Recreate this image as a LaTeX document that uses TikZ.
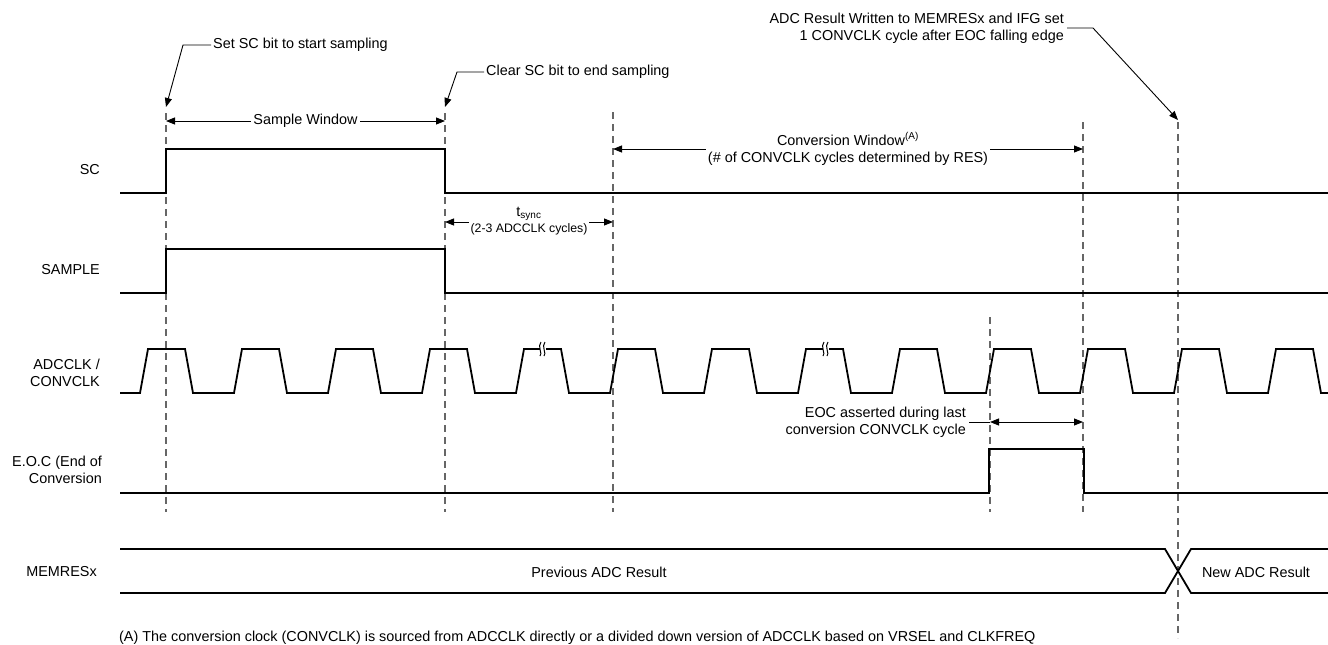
\documentclass[tikz,border=0pt]{standalone}
\usepackage{fontspec}
\setmainfont{Liberation Sans}
\usetikzlibrary{arrows.meta}
\begin{document}
\begin{tikzpicture}[x=1pt,y=-1pt,
  every node/.style={font=\fontsize{14.4}{17.3}\selectfont, inner sep=1pt},
  wave/.style={line width=1.8pt, line join=miter},
  guide/.style={line width=1.1pt, draw=black!60, dash pattern=on 7pt off 5pt},
  dimarrow/.style={line width=0.9pt, {Triangle[length=9pt,width=7pt]}-{Triangle[length=9pt,width=7pt]}},
  leadarrow/.style={line width=0.9pt, -{Triangle[length=9pt,width=7pt]}},
  leadline/.style={line width=0.9pt},
  sig/.style={anchor=east, align=right},
  dimlabel/.style={fill=white, align=center, inner sep=2pt}
]
\useasboundingbox (0,0) rectangle (1328,645);

% signal labels
\node[sig] (lSC) at (101,170) {SC};
\node[sig] (lSAMPLE) at (101,270) {SAMPLE};
\node[sig] (lCLK) at (101,373) {ADCCLK /\\CONVCLK};
\node[sig] (lEOC) at (103,470) {E.O.C (End of\\Conversion};
\node[sig] (lMEM) at (98,572) {MEMRESx};

% dashed guides
\draw[guide] (166,113) -- (166,512);
\draw[guide] (445,113) -- (445,512);
\draw[guide] (613,112) -- (613,512);
\draw[guide] (990,317) -- (990,512);
\draw[guide] (1083,122) -- (1083,512);
\draw[guide] (1178,122) -- (1178,638);

% waveforms
\draw[wave] (120,193) -- (166,193) -- (166,149) -- (445,149) -- (445,193) -- (1328,193);
\draw[wave] (120,293) -- (166,293) -- (166,249) -- (445,249) -- (445,293) -- (1328,293);
\draw[wave] (120,393) foreach \k in {0,...,12} { -- ({140+94*\k},393) -- ({148+94*\k},349) -- ({185+94*\k},349) -- ({193+94*\k},393) } -- (1328,393);
\draw[wave] (120,493) -- (989,493) -- (989,449) -- (1084,449) -- (1084,493) -- (1328,493);
\draw[wave] (120,549) -- (1165,549) -- (1191,593) -- (1328,593);
\draw[wave] (120,593) -- (1165,593) -- (1191,549) -- (1328,549);

% clock break marks
\foreach \c in {543,826} {
  \fill[white] (\c-3,345) rectangle (\c+3,353);
  \draw[line width=1pt] (\c-3,356) .. controls (\c,354) and (\c-6,346) .. (\c-2,342);
  \draw[line width=1pt] (\c+1,356) .. controls (\c+4,354) and (\c-2,346) .. (\c+2,342);
}

% bus values
\node (prev) at (599,572) {Previous ADC Result};
\node (new) at (1256,572) {New ADC Result};

% coordinates
\coordinate (swL) at (166,121);
\coordinate (swR) at (445,121);
\coordinate (cwL) at (613,149);
\coordinate (cwR) at (1083,149);
\coordinate (tsL) at (445,222);
\coordinate (tsR) at (613,222);
\coordinate (eocL) at (990,422);
\coordinate (eocR) at (1083,422);
\coordinate (tSet) at (166,107);
\coordinate (tClr) at (445,107);
\coordinate (tADC) at (1178,120);

% dimension arrows
\draw[dimarrow] (swL) -- (swR) node[midway, dimlabel] (swlab) {Sample Window};
\draw[dimarrow] (cwL) -- (cwR) node[midway, dimlabel] (cwlab) {Conversion Window\textsuperscript{(A)}\\(\# of CONVCLK cycles determined by RES)};
\draw[dimarrow] (tsL) -- (tsR) node[midway, dimlabel, yshift=1pt] (tslab) {t\textsubscript{sync}\\[-2pt]{\fontsize{12.3}{14}\selectfont (2-3 ADCCLK cycles)}};
\draw[dimarrow] (eocL) -- (eocR);

% annotations
\node[anchor=west] (setsc) at (212,45) {Set SC bit to start sampling};
\draw[leadarrow] ([xshift=-1pt]setsc.west) -- (183,45) -- (tSet);
\node[anchor=west] (clrsc) at (485,72) {Clear SC bit to end sampling};
\draw[leadarrow] ([xshift=-1pt]clrsc.west) -- (457,72) -- (tClr);
\node[anchor=east, align=right] (adcres) at (1065,28) {ADC Result Written to MEMRESx and IFG set\\1 CONVCLK cycle after EOC falling edge};
\draw[leadarrow] ([xshift=2pt]adcres.east) -- (1093,28) -- (tADC);
\node[anchor=east, align=right] (eocnote) at (967,422) {EOC asserted during last\\conversion CONVCLK cycle};
\draw[leadline] ([xshift=2pt]eocnote.east) -- (eocL);

% footnote
\node[anchor=west] (foot) at (118,638) {(A) The conversion clock (CONVCLK) is sourced from ADCCLK directly or a divided down version of ADCCLK based on VRSEL and CLKFREQ};
\end{tikzpicture}
\end{document}
